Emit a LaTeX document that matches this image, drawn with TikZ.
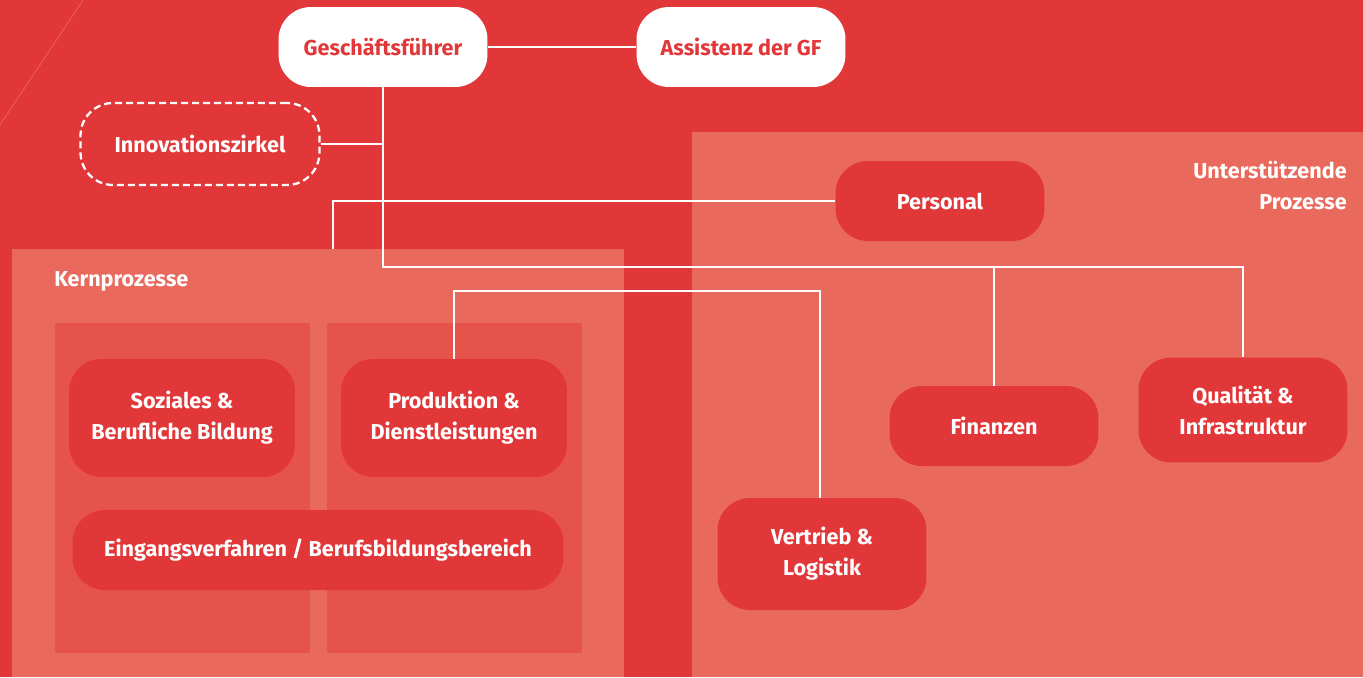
\documentclass[tikz,border=0pt]{standalone}
\usepackage{fontspec}
\setmainfont{Fira Sans}
\usepackage{tikz}
\usetikzlibrary{positioning}

\definecolor{bgred}{RGB}{226,55,57}
\definecolor{panelred}{RGB}{233,106,92}
\definecolor{innerred}{RGB}{229,83,75}

\tikzset{
    unit/.style={rounded corners=0.65cm, fill=bgred, text=white, font=\bfseries\fontsize{12.3}{17.6}\selectfont,
        align=center, minimum width=4.18cm, minimum height=1.6cm, inner sep=0pt},
    lead/.style={unit, fill=white, text=bgred},
    link/.style={draw=white, line width=1.3pt},
    panel/.style={fill=panelred, inner sep=0pt, anchor=north west},
    inner/.style={fill=innerred, inner sep=0pt, anchor=north west},
    heading/.style={text=white, font=\bfseries\fontsize{12.3}{17.6}\selectfont, inner sep=0pt}
}

\begin{document}
\begin{tikzpicture}[x=0.02cm, y=-0.02cm]

                            % Background
                            \fill[bgred] (0,0) rectangle (1363,677);
                            \useasboundingbox (0,0) rectangle (1363,677);
                            \draw[panelred, line width=0.4pt] (0,125) -- (83,0);

                            % Panels
                            \node[panel, minimum width=12.24cm, minimum height=8.56cm] (kern) at (12,249) {};
                            \node[panel, minimum width=13.42cm, minimum height=10.9cm] (support) at (692,132) {};
                            \node[inner, minimum width=5.1cm, minimum height=6.6cm] (colA) at (55,323) {};
                            \node[inner, minimum width=5.1cm, minimum height=6.6cm] (colB) at (327,323) {};

                            % Panel headings
                            \node[heading, anchor=west] (kernlabel) at (54,281) {Kernprozesse};
                            \node[heading, anchor=east, align=right] (supportlabel) at (1347,186) {Unterstützende\\Prozesse};

                            % Management
                            \node[lead] (gf) at (383,47) {Geschäftsführer};
                            \node[lead] (assist) at (741,47) {Assistenz der GF};
                            \node[unit, fill=none, draw=white, line width=1.3pt, dash pattern=on 0.14cm off 0.08cm,
                                minimum width=4.78cm, minimum height=1.64cm] (innov) at (200,144) {Innovationszirkel};

                            % Core processes
                            \node[unit, minimum width=4.52cm, minimum height=2.36cm] (social) at (182,418) {Soziales \&\\Berufliche Bildung};
                            \node[unit, minimum width=4.52cm, minimum height=2.36cm] (prod) at (454,418) {Produktion \&\\Dienstleistungen};
                            \node[unit, minimum width=9.82cm] (entry) at (318,550) {Eingangsverfahren / Berufsbildungsbereich};

                            % Supporting processes
                            \node[unit] (staff) at (940,201) {Personal};
                            \node[unit] (finance) at (994,426) {Finanzen};
                            \node[unit, minimum height=2.1cm] (quality) at (1243,410) {Qualität \&\\Infrastruktur};
                            \node[unit, minimum height=2.24cm] (sales) at (822,554) {Vertrieb \&\\Logistik};

                            % Connectors
                            \coordinate (hub) at (383,267);
                            \coordinate (kerntop) at (333,249);
                            \coordinate (prodbar) at (820,291);
                            \draw[link] (gf) -- (assist);
                            \draw[link] (gf) -- (hub) -| (quality);
                            \draw[link] (finance) -- (finance |- hub);
                            \draw[link] (innov) -- (innov -| gf);
                            \draw[link] (staff) -| (kerntop);
                            \draw[link] (prod) |- (prodbar) -- (prodbar |- sales.north);

                        \end{tikzpicture}
\end{document}
